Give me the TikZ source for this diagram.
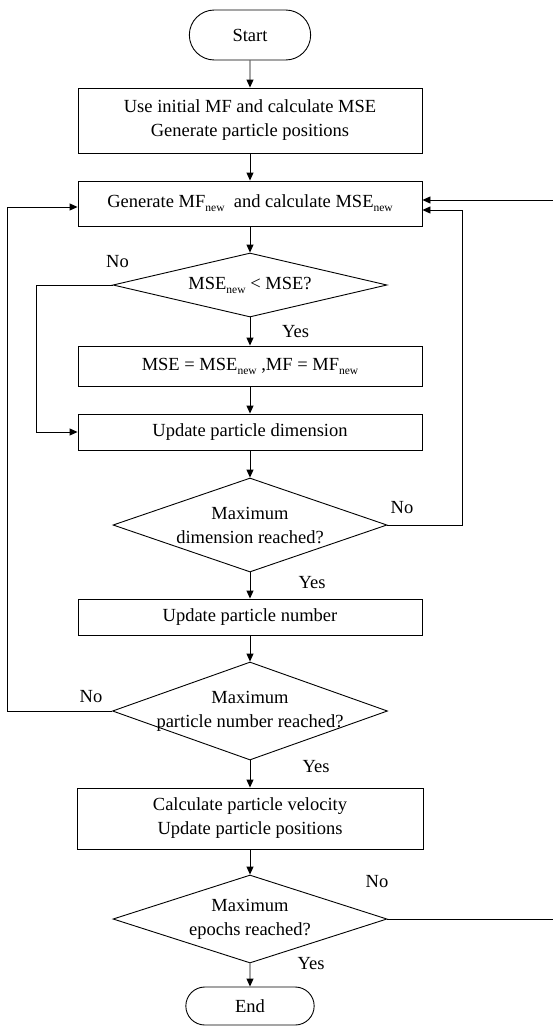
\documentclass[tikz,border=0pt]{standalone}
\usepackage{fontspec}
\setmainfont{Liberation Serif}
\usetikzlibrary{shapes.geometric,shapes.misc,arrows.meta}

\newcommand{\nwsub}{\raisebox{-4pt}{\fontsize{11.5}{12}\selectfont new}}

\tikzset{
  term/.style={draw, rounded rectangle, minimum width=128pt, minimum height=50pt},
  proc/.style={draw, rectangle, minimum width=344pt, align=center},
  dec/.style={draw, diamond, inner sep=0pt, minimum width=274pt},
  lbl/.style={inner sep=0pt},
  flow/.style={-{Triangle[length=8pt,width=7pt]}},
}

\begin{document}
\begin{tikzpicture}[x=1pt, y=-1pt, line width=0.9pt,
    font=\fontsize{18.5}{24}\selectfont]
  \useasboundingbox (0,0) rectangle (553,1028);
  % main column
  \node[term] (start) at (250,35) {Start};
  \node[proc, minimum height=65pt] (init) at (250,120.5)
    {Use initial MF and calculate MSE\\Generate particle positions};
  \node[proc, minimum height=45pt] (gen) at (250,203.5)
    {Generate MF\nwsub\ \ and calculate MSE\nwsub};
  \node[dec, minimum height=64pt,
    label={center:MSE\nwsub\ < MSE?}] (dec1) at (250,285) {};
  \node[proc, minimum height=40pt] (upd) at (250,366)
    {MSE = MSE\nwsub\ ,MF = MF\nwsub};
  \node[proc, minimum height=36pt] (dim) at (250,432) {Update particle dimension};
  \node[dec, minimum height=94pt,
    label={[align=center]center:Maximum\\dimension reached?}] (dec2) at (250,525) {};
  \node[proc, minimum height=36pt] (num) at (250,617) {Update particle number};
  \node[dec, minimum height=98pt, minimum width=275pt,
    label={[align=center]center:Maximum\\particle number reached?}] (dec3) at (250,711) {};
  \node[proc, minimum height=61pt, minimum width=346pt] (vel) at (250,818.5)
    {Calculate particle velocity\\Update particle positions};
  \node[dec, minimum height=88pt,
    label={[align=center]center:Maximum\\epochs reached?}] (dec4) at (250,919) {};
  \node[term, minimum width=135pt, minimum height=38pt] (end) at (250,1006) {End};

  % yes / no labels
  \node[lbl] (no1) at (117.5,262) {No};
  \node[lbl] (yes1) at (295.5,332) {Yes};
  \node[lbl] (no2) at (402,508) {No};
  \node[lbl] (yes2) at (312,583) {Yes};
  \node[lbl] (no3) at (91,697) {No};
  \node[lbl] (yes3) at (316,767) {Yes};
  \node[lbl] (no4) at (377,882) {No};
  \node[lbl] (yes4) at (311,964) {Yes};

  \begin{scope}[flow]
    \draw (start) -- (init);
    \draw (init) -- (gen);
    \draw (gen) -- (dec1);
    \draw (dec1) -- (upd);
    \draw (upd) -- (dim);
    \draw (dim) -- (dec2);
    \draw (dec2) -- (num);
    \draw (num) -- (dec3);
    \draw (dec3) -- (vel);
    \draw (vel) -- (dec4);
    \draw (dec4) -- (end);
    % loops back
    \draw (dec1.west) -- ++(-76,0) |- (dim.west);
    \draw (dec2.east) -- ++(75,0) |- ([yshift=-6.5pt]gen.east);
    \draw (dec3.west) -- ++(-105,0) |- ([yshift=-3.5pt]gen.west);
    \draw (dec4.east) -- ++(166.5,0) |- ([yshift=3.5pt]gen.east);
  \end{scope}
\end{tikzpicture}
\end{document}
